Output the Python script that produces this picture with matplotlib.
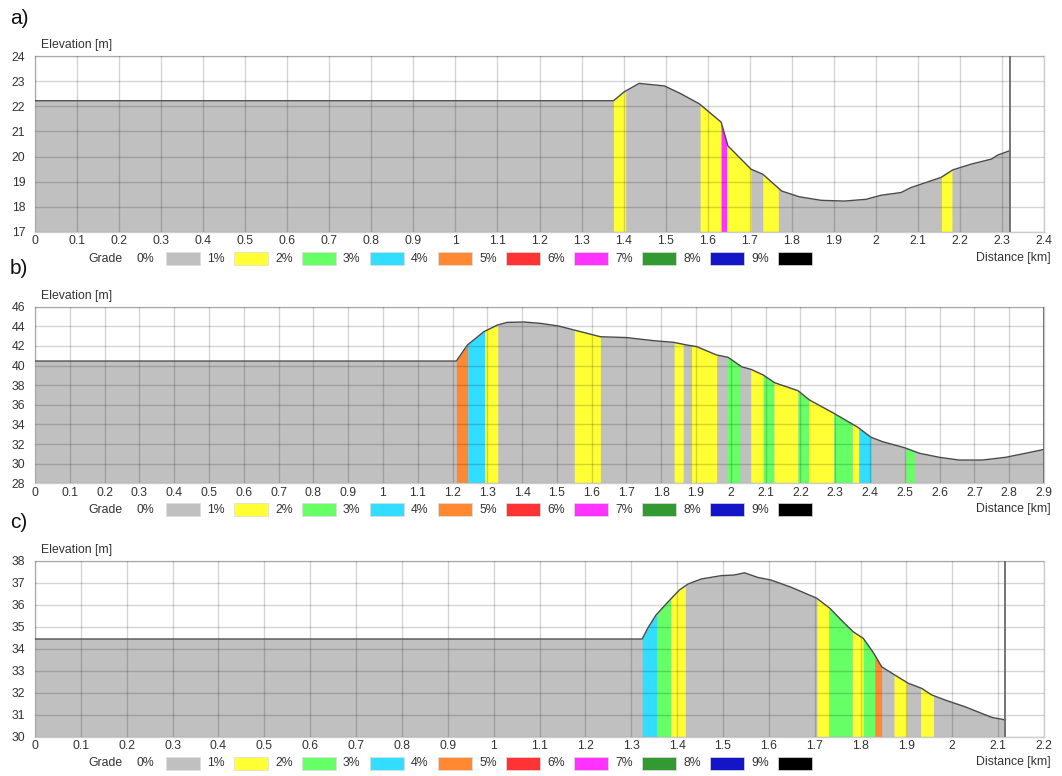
import numpy as np
import matplotlib
matplotlib.use("Agg")
import matplotlib.pyplot as plt
from matplotlib.patches import Rectangle

plt.rcParams['font.family'] = ['Liberation Sans', 'DejaVu Sans']

# ---------------- data ----------------
grade_labels = ["0%", "1%", "2%", "3%", "4%", "5%", "6%", "7%", "8%", "9%"]
grade_colors = ["#c0c0c0", "#ffff33", "#66ff66", "#33ddff", "#ff8833",
                "#ff3333", "#ff33ff", "#339933", "#1515c8", "#000000"]

# panel a
a_dist = [0.0, 1.376, 1.401, 1.437, 1.497, 1.536, 1.580, 1.632, 1.648, 1.703,
          1.731, 1.776, 1.818, 1.870, 1.925, 1.977, 2.012, 2.060, 2.084, 2.155,
          2.183, 2.227, 2.275, 2.290, 2.318]
a_elev = [22.22, 22.22, 22.57, 22.91, 22.81, 22.50, 22.10, 21.37, 20.43, 19.50,
          19.30, 18.63, 18.40, 18.26, 18.23, 18.30, 18.46, 18.57, 18.77, 19.17,
          19.47, 19.70, 19.90, 20.06, 20.23]
a_band_start = [1.376, 1.582, 1.632, 1.645, 1.731, 2.156]
a_band_end = [1.405, 1.632, 1.645, 1.703, 1.768, 2.181]
a_band_grade = [1, 1, 6, 1, 1, 1]

# panel b
b_dist = [0.0, 1.211, 1.243, 1.290, 1.329, 1.357, 1.405, 1.453, 1.505, 1.550,
          1.625, 1.701, 1.777, 1.835, 1.873, 1.902, 1.959, 1.992, 2.031, 2.059,
          2.093, 2.126, 2.193, 2.226, 2.293, 2.365, 2.403, 2.436, 2.499, 2.542,
          2.599, 2.656, 2.723, 2.790, 2.847, 2.900]
b_elev = [40.46, 40.46, 42.10, 43.45, 44.13, 44.40, 44.44, 44.30, 44.03, 43.62,
          42.94, 42.85, 42.54, 42.37, 42.10, 41.93, 41.08, 40.84, 39.88, 39.60,
          39.04, 38.25, 37.44, 36.49, 35.20, 33.71, 32.69, 32.24, 31.63, 31.06,
          30.65, 30.37, 30.37, 30.65, 31.06, 31.45]
b_band_start = [1.211, 1.244, 1.292, 1.550, 1.837, 1.887, 1.989, 2.057, 2.093,
                2.124, 2.193, 2.223, 2.296, 2.349, 2.368, 2.503]
b_band_end = [1.244, 1.292, 1.330, 1.625, 1.863, 1.959, 2.026, 2.093, 2.124,
              2.193, 2.223, 2.296, 2.349, 2.368, 2.403, 2.527]
b_band_grade = [4, 3, 1, 1, 1, 1, 2, 1, 2, 1, 2, 1, 2, 1, 3, 2]

# panel c
c_dist = [0.0, 1.324, 1.336, 1.354, 1.384, 1.405, 1.424, 1.453, 1.496, 1.525,
          1.547, 1.576, 1.605, 1.649, 1.704, 1.733, 1.758, 1.784, 1.806, 1.828,
          1.846, 1.875, 1.904, 1.933, 1.955, 1.984, 2.028, 2.064, 2.086, 2.116]
c_elev = [34.44, 34.44, 34.93, 35.53, 36.21, 36.67, 36.94, 37.17, 37.32, 37.35,
          37.45, 37.24, 37.12, 36.79, 36.30, 35.84, 35.30, 34.77, 34.47, 33.82,
          33.18, 32.80, 32.43, 32.20, 31.90, 31.67, 31.36, 31.06, 30.88, 30.76]
c_band_start = [1.324, 1.356, 1.386, 1.705, 1.731, 1.782, 1.806, 1.831, 1.873, 1.931]
c_band_end = [1.356, 1.386, 1.418, 1.731, 1.782, 1.806, 1.831, 1.846, 1.900, 1.959]
c_band_grade = [3, 2, 1, 1, 2, 1, 2, 4, 1, 1]

# ---------------- figure ----------------
W, H = 1062, 776
fig = plt.figure(figsize=(W / 100, H / 100), dpi=100)
FS = 8.8
TXT = "#333333"


def fx(px):
    return px / W


def fy(py):
    return 1 - py / H


def draw_panel(top_px, bottom_px, letter, dist, elev, bs, be, bg,
               xmax, ymin, ymax, ystep):
    left_px, right_px = 35, 1044
    ax = fig.add_axes([fx(left_px), fy(bottom_px), (right_px - left_px) / W,
                       (bottom_px - top_px) / H])
    d = np.array(dist)
    e = np.array(elev)
    ax.fill_between(d, e, ymin, color=grade_colors[0], lw=0, zorder=1)
    for s, en, g in zip(bs, be, bg):
        inner = d[(d > s) & (d < en)]
        xs = np.concatenate([[s], inner, [en]])
        ys = np.interp(xs, d, e)
        ax.fill_between(xs, ys, ymin, color=grade_colors[g], lw=0, zorder=1.5)
    ax.plot(d, e, color="#4a4a4a", lw=1.0, zorder=4)
    ax.axvline(d[-1], color="#6a6a6a", lw=1.3, zorder=4)

    ax.set_xlim(0, xmax)
    ax.set_ylim(ymin, ymax)
    xt = np.round(np.arange(0, xmax + 1e-9, 0.1), 1)
    ax.set_xticks(xt)
    ax.set_xticklabels(["%g" % v for v in xt])
    yt = np.arange(ymin, ymax + 1e-9, ystep)
    ax.set_yticks(yt)
    ax.set_yticklabels(["%g" % v for v in yt])
    ax.tick_params(length=0, labelsize=FS, labelcolor=TXT)
    ax.tick_params(axis="x", pad=2.5)
    ax.tick_params(axis="y", pad=7)
    ax.set_axisbelow(False)
    ax.grid(True, color="black", alpha=0.17, lw=1.0, zorder=3)
    for sp in ax.spines.values():
        sp.set_color("#cccccc")
        sp.set_linewidth(1.0)

    # labels
    fig.text(fx(10), fy(top_px - 38), letter, fontsize=15, color="#111111",
             ha="left", va="center")
    fig.text(fx(41), fy(top_px - 11), "Elevation [m]", fontsize=FS,
             color=TXT, ha="left", va="center")
    ly = bottom_px + 26.5
    fig.text(fx(1051), fy(ly - 1.0), "Distance [km]", fontsize=FS, color=TXT,
             ha="right", va="center")
    fig.text(fx(88), fy(ly), "Grade", fontsize=FS, color=TXT,
             ha="left", va="center")
    fig.text(fx(137), fy(ly), grade_labels[0], fontsize=FS, color=TXT,
             ha="left", va="center")
    for i, col in enumerate(grade_colors):
        x0 = 166 + 68 * i
        fig.add_artist(Rectangle((fx(x0), fy(ly + 6.5)), 33.5 / W, 13 / H,
                                 transform=fig.transFigure, facecolor=col,
                                 edgecolor="#dddddd", lw=0.5))
        if i + 1 < len(grade_labels):
            fig.text(fx(x0 + 41), fy(ly), grade_labels[i + 1], fontsize=FS,
                     color=TXT, ha="left", va="center")
    return ax


draw_panel(56, 232, "a)", a_dist, a_elev, a_band_start, a_band_end,
           a_band_grade, 2.4, 17, 24, 1)
draw_panel(306.7, 483.3, "b)", b_dist, b_elev, b_band_start, b_band_end,
           b_band_grade, 2.9, 28, 46, 2)
draw_panel(560.7, 736.7, "c)", c_dist, c_elev, c_band_start, c_band_end,
           c_band_grade, 2.2, 30, 38, 1)

fig.savefig("out.png", dpi=100)
